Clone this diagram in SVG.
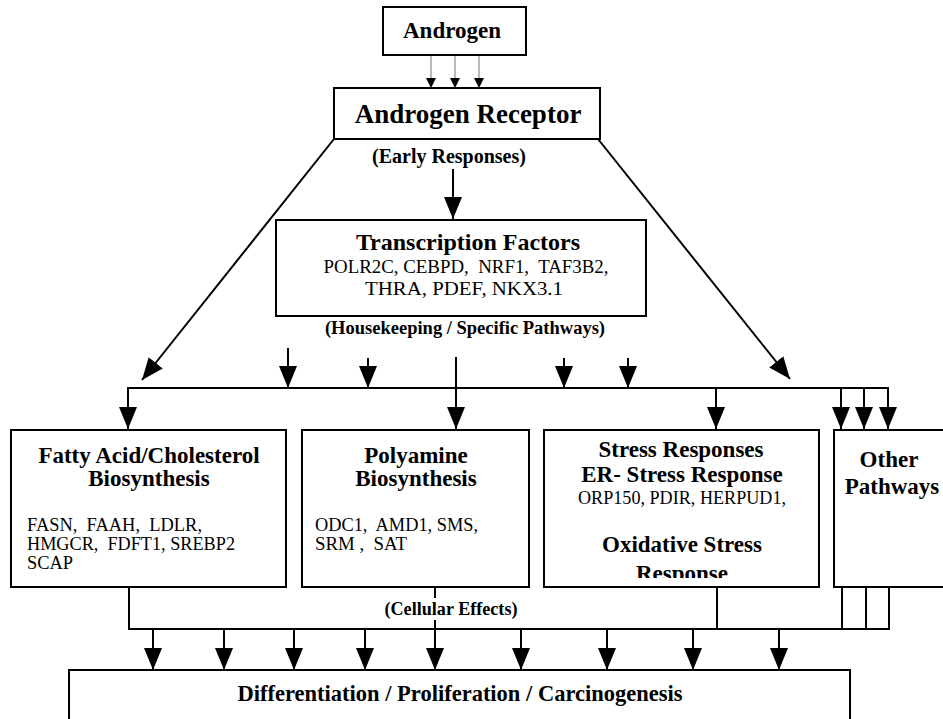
<svg xmlns="http://www.w3.org/2000/svg" width="943" height="719" viewBox="0 0 943 719">
<style>
text { font-family: "Liberation Serif", "Times New Roman", serif; fill: #000; white-space: pre; }
.b { font-weight: bold; text-anchor: middle; }
.h { font-size: 23px; }
.r { font-weight: normal; font-size: 19.5px; }
.c { text-anchor: middle; }
.box { fill: #fff; stroke: #000; stroke-width: 2; }
.ln { fill: none; stroke: #000; stroke-width: 2; }
.thin { fill: none; stroke: #777; stroke-width: 1; }
</style>
<defs>
<marker id="ah" viewBox="0 0 22 18" refX="22" refY="9" markerWidth="22" markerHeight="18" markerUnits="userSpaceOnUse" orient="auto">
<path d="M0,0 L22,9 L0,18 Z" fill="#000"/>
</marker>
<marker id="as" viewBox="0 0 10 10" refX="10" refY="5" markerWidth="10" markerHeight="10" markerUnits="userSpaceOnUse" orient="auto">
<path d="M0,0 L10,5 L0,10 Z" fill="#000"/>
</marker>
<clipPath id="respClip"><rect x="544" y="540" width="275" height="38"/></clipPath>
</defs>
<rect width="943" height="719" fill="#fff"/>

<g id="connectors">
<line class="thin" x1="431" y1="55" x2="431" y2="88" marker-end="url(#as)"/>
<line class="thin" x1="455" y1="55" x2="455" y2="88" marker-end="url(#as)"/>
<line class="thin" x1="479" y1="55" x2="479" y2="88" marker-end="url(#as)"/>
<line class="ln" x1="453" y1="169" x2="453" y2="219" marker-end="url(#ah)"/>
<line class="ln" x1="334" y1="139" x2="142" y2="380" marker-end="url(#ah)"/>
<line class="ln" x1="598" y1="139" x2="790" y2="379" marker-end="url(#ah)"/>
<line class="ln" x1="288" y1="348" x2="288" y2="388" marker-end="url(#ah)"/>
<line class="ln" x1="368" y1="358" x2="368" y2="388" marker-end="url(#ah)"/>
<line class="ln" x1="564" y1="358" x2="564" y2="388" marker-end="url(#ah)"/>
<line class="ln" x1="628" y1="358" x2="628" y2="388" marker-end="url(#ah)"/>
<path class="ln" d="M128,400 V388 H888 V400"/>
<line class="ln" x1="128" y1="388" x2="128" y2="429" marker-end="url(#ah)"/>
<line class="ln" x1="456" y1="357" x2="456" y2="429" marker-end="url(#ah)"/>
<line class="ln" x1="716" y1="388" x2="716" y2="429" marker-end="url(#ah)"/>
<line class="ln" x1="841" y1="388" x2="841" y2="429" marker-end="url(#ah)"/>
<line class="ln" x1="864" y1="388" x2="864" y2="429" marker-end="url(#ah)"/>
<line class="ln" x1="888" y1="388" x2="888" y2="429" marker-end="url(#ah)"/>
<path class="ln" d="M129,587 V629 H889 V587"/>
<line class="ln" x1="717" y1="587" x2="717" y2="629"/>
<line class="ln" x1="842" y1="587" x2="842" y2="629"/>
<line class="ln" x1="866" y1="587" x2="866" y2="629"/>
<line class="ln" x1="435" y1="587" x2="435" y2="598"/>
<line class="ln" x1="435" y1="620" x2="435" y2="670" marker-end="url(#ah)"/>
<line class="ln" x1="153" y1="629" x2="153" y2="670" marker-end="url(#ah)"/>
<line class="ln" x1="224" y1="629" x2="224" y2="670" marker-end="url(#ah)"/>
<line class="ln" x1="294" y1="629" x2="294" y2="670" marker-end="url(#ah)"/>
<line class="ln" x1="365" y1="629" x2="365" y2="670" marker-end="url(#ah)"/>
<line class="ln" x1="521" y1="629" x2="521" y2="670" marker-end="url(#ah)"/>
<line class="ln" x1="607" y1="629" x2="607" y2="670" marker-end="url(#ah)"/>
<line class="ln" x1="693" y1="629" x2="693" y2="670" marker-end="url(#ah)"/>
<line class="ln" x1="779" y1="629" x2="779" y2="670" marker-end="url(#ah)"/>
</g>

<g id="labels">
<text class="b" x="449" y="163" font-size="20">(Early Responses)</text>
<text class="b" x="465" y="334" font-size="18.5">(Housekeeping / Specific Pathways)</text>
<text class="b" x="451" y="615" font-size="18" textLength="133" lengthAdjust="spacingAndGlyphs">(Cellular Effects)</text>
</g>

<g id="androgen">
<rect class="box" x="383" y="7" width="143" height="48"/>
<text class="b h" x="452" y="38">Androgen</text>
</g>

<g id="androgen-receptor">
<rect class="box" x="334" y="88" width="266" height="51"/>
<text class="b" x="468" y="123" font-size="27">Androgen Receptor</text>
</g>

<g id="transcription-factors">
<rect class="box" x="276" y="220" width="370" height="96"/>
<text class="b" x="468" y="250" font-size="24">Transcription Factors</text>
<text class="r c" x="466" y="273" textLength="285" lengthAdjust="spacingAndGlyphs">POLR2C, CEBPD,  NRF1,  TAF3B2,</text>
<text class="r c" x="464" y="295" textLength="198" lengthAdjust="spacingAndGlyphs">THRA, PDEF, NKX3.1</text>
</g>

<g id="fatty-acid">
<rect class="box" x="11" y="430" width="275" height="157"/>
<text class="b h" x="149" y="463">Fatty Acid/Cholesterol</text>
<text class="b h" x="149" y="486">Biosynthesis</text>
<text class="r" x="27" y="531" textLength="175" lengthAdjust="spacingAndGlyphs">FASN,  FAAH,  LDLR,</text>
<text class="r" x="27" y="550" textLength="208" lengthAdjust="spacingAndGlyphs">HMGCR,  FDFT1, SREBP2</text>
<text class="r" x="27" y="569" textLength="46" lengthAdjust="spacingAndGlyphs">SCAP</text>
</g>

<g id="polyamine">
<rect class="box" x="302" y="430" width="227" height="157"/>
<text class="b h" x="416" y="463">Polyamine</text>
<text class="b h" x="416" y="486">Biosynthesis</text>
<text class="r" x="315" y="531" textLength="163" lengthAdjust="spacingAndGlyphs">ODC1,  AMD1, SMS,</text>
<text class="r" x="315" y="550" textLength="92" lengthAdjust="spacingAndGlyphs">SRM ,  SAT</text>
</g>

<g id="stress">
<rect class="box" x="544" y="430" width="275" height="157"/>
<text class="b h" x="681" y="457">Stress Responses</text>
<text class="b h" x="682" y="482">ER- Stress Response</text>
<text class="r c" x="682" y="504" textLength="208" lengthAdjust="spacingAndGlyphs">ORP150, PDIR, HERPUD1,</text>
<text class="b h" x="682" y="552">Oxidative Stress</text>
<text class="b h" x="682" y="581" clip-path="url(#respClip)">Response</text>
</g>

<g id="other">
<rect class="box" x="834" y="430" width="120" height="157"/>
<text class="b h" x="889" y="467">Other</text>
<text class="b h" x="892" y="494">Pathways</text>
</g>

<g id="outcome">
<rect class="box" x="69" y="670" width="781" height="70"/>
<text class="b" x="460" y="701" font-size="22.5">Differentiation / Proliferation / Carcinogenesis</text>
</g>
</svg>
